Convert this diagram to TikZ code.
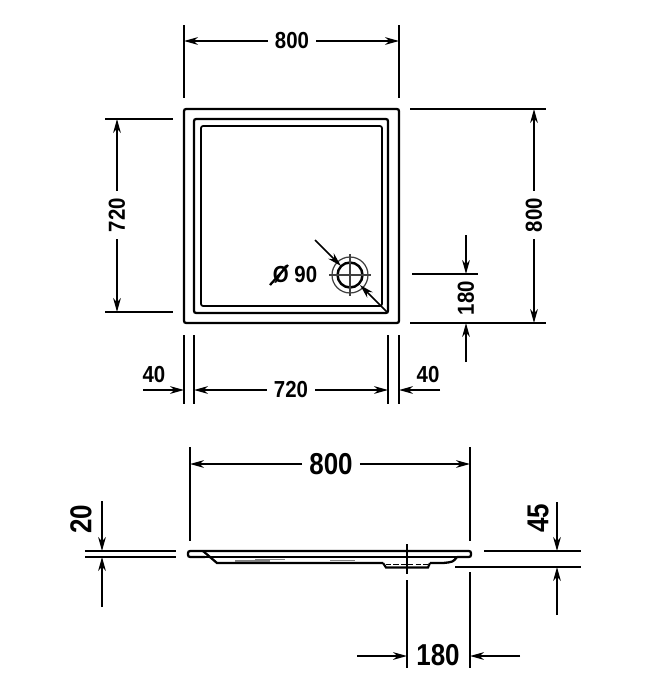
\documentclass[tikz,border=0pt]{standalone}
\usepackage{fontspec}
\setmainfont{Liberation Sans}
\usetikzlibrary{arrows.meta}

\tikzset{
    dimline/.style={line width=.95pt,black},
    outline/.style={line width=1.3pt,black,rounded corners=1.2pt},
    dimtext/.style={font=\bfseries\fontsize{13.2}{15}\selectfont,xscale=.88,inner sep=4.5pt},
    dimbig/.style={font=\bfseries\fontsize{17.2}{19}\selectfont,xscale=.86,inner sep=4.5pt}
}

\begin{document}
\begin{tikzpicture}[x=.02cm,y=-.02cm,>={Stealth[length=8pt,width=4.4pt]}]
    \useasboundingbox (0,0) rectangle (650,700);

    % Plan view
    \draw[outline] (184,109) rectangle (399,323);
    \draw[outline] (194,119) rectangle (388,313);
    \draw[outline,line width=1pt] (201,126) rectangle (382,306);

    % Drain
    \coordinate (drain) at (350,275);
    \draw[line width=1.4pt] (drain) circle (12.5);
    \draw[line width=.7pt,black!75] (drain) circle (18);
    \draw[line width=.7pt,black!75] (329,275) -- (371,275) (350,254) -- (350,296);
    \coordinate (A) at (315,240); \coordinate (B) at (341,266);
    \coordinate (C) at (387,312); \coordinate (D) at (360,285);
    \draw[dimline,->] (A) -- (B);
    \draw[dimline,->] (C) -- (D);
    \node[dimtext,inner sep=0pt] (dia) at (295,275) {Ø 90};
    \draw[line width=1.3pt] (270,285) -- (288,265);

    % Extension lines
    \draw[dimline] (184,25) -- (184,98) (399,25) -- (399,98);
    \draw[dimline] (105,119) -- (173,119) (105,312) -- (173,312);
    \draw[dimline] (410,109) -- (546,109) (410,323) -- (546,323);
    \draw[dimline] (412,274) -- (478,274);
    \draw[dimline] (184,335) -- (184,404) (194,335) -- (194,404);
    \draw[dimline] (388,335) -- (388,404) (399,335) -- (399,404);

    % Dimensions of the plan
    \node[dimtext] (topw) at (292,41) {800};
    \draw[dimline,->] (topw) -- (184,41);
    \draw[dimline,->] (topw) -- (399,41);
    \node[rotate=90,dimtext] (lefth) at (117,215) {720};
    \draw[dimline,->] (lefth) -- (117,119);
    \draw[dimline,->] (lefth) -- (117,312);
    \node[rotate=90,dimtext] (righth) at (534,215) {800};
    \draw[dimline,->] (righth) -- (534,109);
    \draw[dimline,->] (righth) -- (534,323);
    \node[rotate=90,dimtext] (drainy) at (466,298) {180};
    \draw[dimline,->] (466,235) -- (466,274);
    \draw[dimline,->] (466,362) -- (466,323);
    \node[dimtext] (innerw) at (291,390) {720};
    \draw[dimline,->] (innerw) -- (194,390);
    \draw[dimline,->] (innerw) -- (388,390);
    \node[dimtext] (rimleft) at (154,375) {40};
    \draw[dimline,->] (143,390) -- (184,390);
    \node[dimtext] (rimright) at (428,375) {40};
    \draw[dimline,->] (440,390) -- (399,390);

    % Side view
    \draw[outline] (205,557) -- (188,557) -- (188,551) -- (471,551) -- (471,557) -- (457,557);
    \draw[line width=1.5pt] (205,557) -- (457,557);
    \draw[line width=1.3pt] (203,551) -- (217,563) -- (383,563);
    \draw[line width=1.3pt] (457,557) .. controls (453,562) .. (443,563) -- (430,563);
    \draw[line width=.8pt,black!50] (255,559.5) -- (285,559.5) (235,561) -- (270,561) (330,560.5) -- (355,560.5);
    \draw[line width=1.2pt] (383,563) -- (386,567.5) -- (428,567.5) -- (430,563);
    \draw[line width=1.1pt,dash pattern=on 3pt off 1.2pt] (386,564.5) -- (428,564.5);
    \draw[line width=1.2pt] (407,544) -- (407,574);

    % Extension lines of the side view
    \draw[dimline] (190,447) -- (190,541) (470,447) -- (470,541);
    \draw[dimline] (85,551) -- (176,551) (85,557) -- (176,557);
    \draw[dimline] (484,551) -- (581,551) (455,567) -- (581,567);
    \draw[dimline] (407,580) -- (407,668) (470,572) -- (470,668);

    % Dimensions of the side view
    \node[dimbig] (sidew) at (331,464) {800};
    \draw[dimline,->] (sidew) -- (190,464);
    \draw[dimline,->] (sidew) -- (470,464);
    \node[rotate=90,dimbig] (rimt) at (81,519) {20};
    \draw[dimline,->] (102,501) -- (102,551);
    \draw[dimline,->] (102,607) -- (102,557);
    \node[rotate=90,dimbig] (height) at (538,518) {45};
    \draw[dimline,->] (557,502) -- (557,551);
    \draw[dimline,->] (557,615) -- (557,567);
    \node[dimbig] (drainx) at (438,655) {180};
    \draw[dimline,->] (357,656) -- (407,656);
    \draw[dimline,->] (520,656) -- (470,656);
\end{tikzpicture}
\end{document}
